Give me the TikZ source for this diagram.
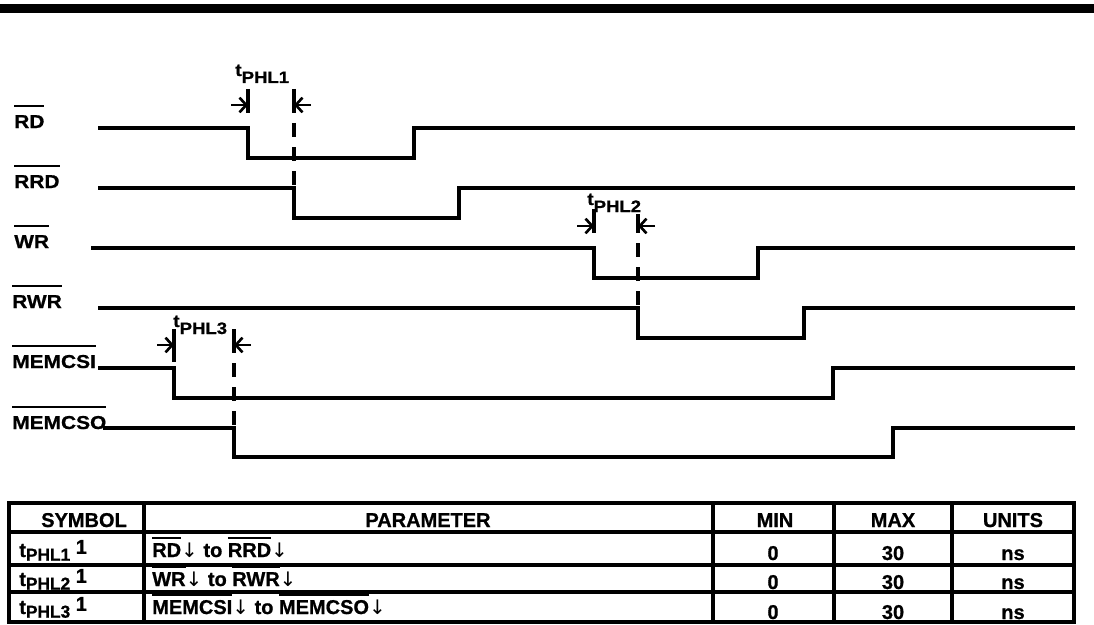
\documentclass[tikz,border=0pt]{standalone}
\usepackage{fontspec}
\setmainfont{Liberation Sans}
\newfontfamily\SigFont{Liberation Sans}[FakeStretch=1.12,FakeBold=0.8]
\newfontfamily\TabFont{Liberation Sans}[FakeBold=0.8]
\newfontfamily\ArrFont{DejaVu Sans}
\usetikzlibrary{arrows.meta}
\newcommand{\ActLow}[2][6pt]{\vbox{\hrule height 1.5pt\kern#1\hbox{#2}}}
\newcommand{\Dn}{{\ArrFont\mdseries ↓}}
\newcommand{\Tphl}[1]{t\raisebox{-5.25pt}{\fontsize{12.4}{13}\selectfont #1}}
\newcommand{\TabSym}[1]{t\raisebox{-0.35ex}{\fontsize{13}{14}\selectfont #1} \raisebox{0.3ex}{1}}
\newcommand{\Wave}[4]{\draw[wave] (#2,#1) -| (#3,#1+30) -| (#4,#1) -- (1075,#1);}
\newcommand{\Delay}[7]{%
  \draw[wave] (#1,#3) -- (#1,#5) (#2,#4) -- (#2,#5);
  \draw[dim] (#1-17,#6) -- (#1,#6);
  \draw[dim] (#2+17,#6) -- (#2,#6);
  \draw[skew] (#2,#5) -- (#2,#7);}

\begin{document}
\begin{tikzpicture}[x=0.75pt,y=-0.75pt,
  wave/.style={line width=2.4pt},
  skew/.style={line width=2.4pt,dash pattern=on 10.5pt off 7.5pt,dash phase=10.5pt},
  dim/.style={line width=2pt,-{Straight Barb[length=5pt,width=11pt,line width=2pt]}},
  siglabel/.style={anchor=base west,inner sep=0pt,font=\SigFont\bfseries\fontsize{14}{15}\selectfont},
  tlabel/.style={anchor=base west,inner sep=0pt,font=\SigFont\bfseries\fontsize{13}{14}\selectfont},
  tab/.style={line width=2.4pt},
  cell/.style={anchor=base,inner sep=0pt,font=\TabFont\bfseries\fontsize{15}{16}\selectfont},
  lcell/.style={cell,anchor=base west}]
\useasboundingbox (0,0) rectangle (1094,624);
\fill (0,4) rectangle (1094,13);
% signals
\node[siglabel] (rd) at (14,128) {\ActLow{RD}};
\node[siglabel] (rrd) at (14,188) {\ActLow{RRD}};
\node[siglabel] (wr) at (14,248) {\ActLow{WR}};
\node[siglabel] (rwr) at (12,308) {\ActLow{RWR}};
\node[siglabel] (memcsi) at (12,368) {\ActLow{MEMCSI}};
\node[siglabel] (memcso) at (12,429) {\ActLow{MEMCSO}};
\Wave{128}{98}{248}{414}
\Wave{188}{98}{294}{459}
\Wave{248}{91}{594}{758}
\Wave{308}{98}{638}{804}
\Wave{368}{98}{174}{833}
\draw[wave] (103,428) -| (234,457) -| (893,428) -- (1075,428);
% delays
\Delay{248}{294}{89}{89}{113}{105}{188}
\Delay{594}{638}{209}{214}{233}{226}{308}
\Delay{174}{234}{329}{329}{353}{345}{428}
\draw[wave] (174,353) -- (174,362);
\node[tlabel] (t1) at (235,76) {\Tphl{PHL1}};
\node[tlabel] (t2) at (587,205) {\Tphl{PHL2}};
\node[tlabel] (t3) at (173,327) {\Tphl{PHL3}};
% table
\draw[tab] (9,503) rectangle (1074,622);
\foreach \y in {532,565,592} \draw[tab] (9,\y) -- (1074,\y);
\foreach \x in {144,713,834,952} \draw[tab] (\x,503) -- (\x,622);
\node[cell] (hsym) at (84,527) {SYMBOL};
\node[cell] (hpar) at (428,527) {PARAMETER};
\node[cell] (hmin) at (775,527) {MIN};
\node[cell] (hmax) at (893,527) {MAX};
\node[cell] (hunit) at (1013,527) {UNITS};
\node[lcell] (s1) at (19,557) {\TabSym{PHL1}};
\node[lcell] (s2) at (19,586) {\TabSym{PHL2}};
\node[lcell] (s3) at (19,614) {\TabSym{PHL3}};
\node[lcell] (p1) at (152,557) {\ActLow[3pt]{RD}\Dn{} to \ActLow[3pt]{RRD}\Dn};
\node[lcell] (p2) at (152,586) {\ActLow[3pt]{WR}\Dn{} to \ActLow[3pt]{RWR}\Dn};
\node[lcell] (p3) at (152,614) {\ActLow[3pt]{MEMCSI}\Dn{} to \ActLow[3pt]{MEMCSO}\Dn};
\foreach \y [count=\i] in {560,589,619} {
  \node[cell] (min\i) at (773,\y) {0};
  \node[cell] (max\i) at (893,\y) {30};
  \node[cell] (unit\i) at (1013,\y) {ns};
}
\end{tikzpicture}
\end{document}
